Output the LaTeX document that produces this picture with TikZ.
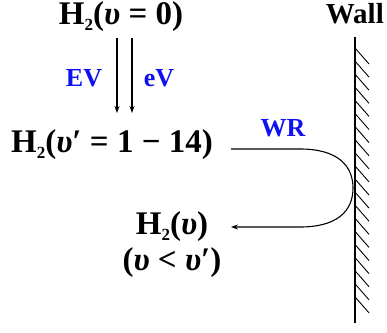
\documentclass[tikz,border=0pt]{standalone}
\usepackage{fontspec}
\setmainfont{Liberation Serif}
\usepackage{tikz}
\usetikzlibrary{arrows.meta,positioning,calc}
\definecolor{ink}{HTML}{000000}
\definecolor{accent}{HTML}{1010F0}
\newcommand{\vib}{{\itshape υ}}
\newcommand{\sub}[1]{\raisebox{-0.4ex}{\fontsize{17}{17}\selectfont #1}}
\tikzset{
  species/.style={font=\fontsize{33}{35}\selectfont\bfseries,text=ink,inner sep=0pt,align=center},
  proc/.style={font=\fontsize{26}{28}\selectfont\bfseries,text=accent,inner sep=0pt},
  arr/.style={-{Stealth[length=7pt,width=5pt]},line width=1.1pt,draw=ink},
  wallline/.style={line width=1.3pt,draw=ink},
  hatch/.style={line width=0.9pt,draw=ink},
}
\begin{document}
\begin{tikzpicture}[x=1pt,y=-1pt]
  \useasboundingbox (0,0) rectangle (387,332);
  % species
  \node[species] (h0) at (121,17) {H\sub{2}(\vib\ = 0)};
  \node[species] (h1) at (112,145) {H\sub{2}(\vib′ = 1 − 14)};
  \node[species,font=\fontsize{33}{36}\selectfont\bfseries] (h2) at (172,245) {H\sub{2}(\vib)\\(\vib\ < \vib′)};
  \node[species,font=\fontsize{29}{30}\selectfont\bfseries,anchor=east] (wl) at (384,14) {Wall};
  % vibrational excitation
  \coordinate (ea) at (117,38);
  \coordinate (eb) at (132,38);
  \coordinate (ta) at (117,113);
  \coordinate (tb) at (132,113);
  \draw[arr] (ea) -- (ta);
  \draw[arr] (eb) -- (tb);
  \node[proc] (ev) at (84,78) {EV};
  \node[proc] (ev2) at (159,78) {eV};
  % wall
  \coordinate (wt) at (355,37);
  \coordinate (wb) at (355,323);
  \draw[wallline] (wt) -- (wb);
  \foreach \y in {48,61.1,...,298}
    \draw[hatch] (355,\y) -- ++(14,16);
  % wall relaxation
  \node[proc] (wr) at (283,128) {WR};
  \coordinate (s) at ($(h1.east)+(18,4)$);
  \coordinate (tp) at (353,188);
  \draw[arr] (s) -- (300,149) .. controls (338,149) and (353,166) .. (tp)
    .. controls (353,212) and (336,227) .. (300,227) -- (231,227);
\end{tikzpicture}
\end{document}
